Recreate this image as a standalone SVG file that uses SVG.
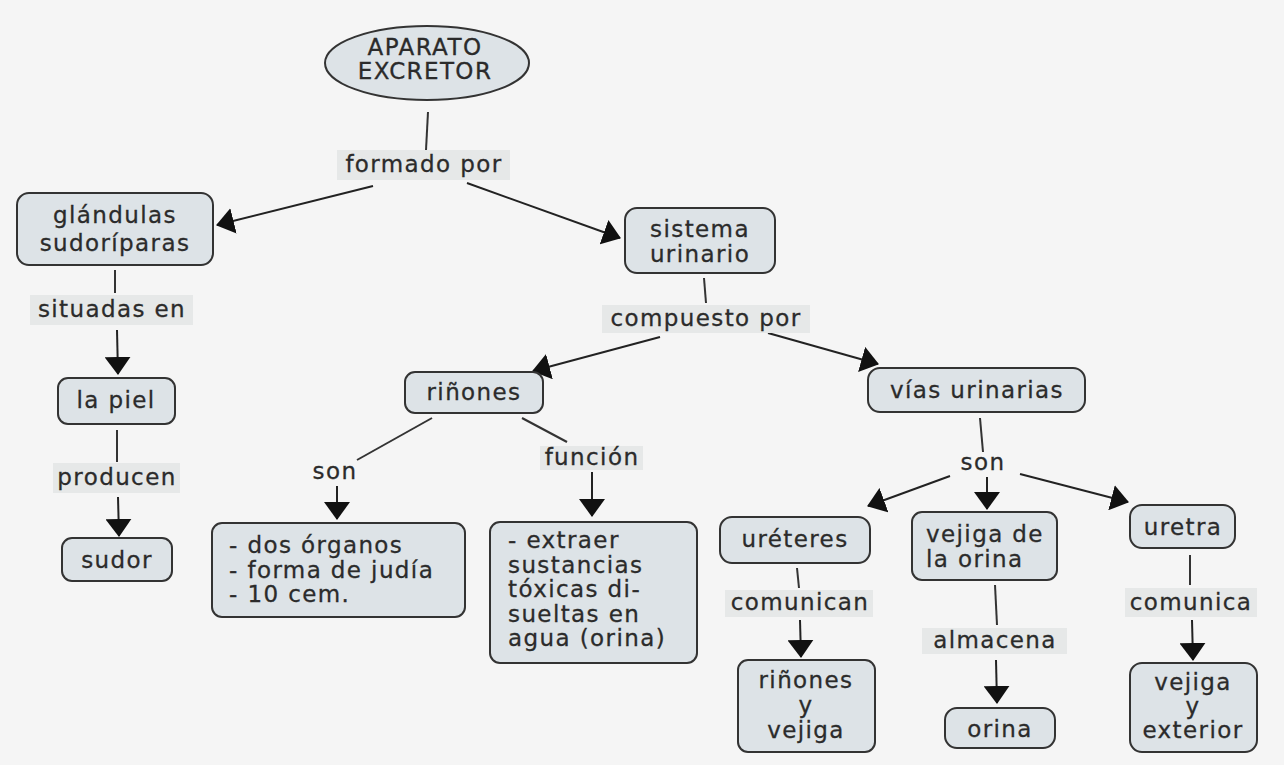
<svg xmlns="http://www.w3.org/2000/svg" width="1284" height="765" viewBox="0 0 1284 765">
<defs>
<marker id="ah" markerUnits="userSpaceOnUse" markerWidth="18" markerHeight="26" viewBox="0 0 18 26" refX="17" refY="13" orient="auto"><path d="M0,0 L18,13 L0,26 z" fill="#111"/></marker>
<style>
.n{fill:#dde3e7;stroke:#333;stroke-width:2}
.t{font-family:"DejaVu Sans",Verdana,sans-serif;font-size:23px;letter-spacing:1.4px;fill:#2b2b2b;stroke:#2b2b2b;stroke-width:0.3}
.c{text-anchor:middle}
.lb{fill:#e6e8e8}
.ln{stroke:#333;stroke-width:2;fill:none}
.ar{stroke:#222;stroke-width:2;fill:none;marker-end:url(#ah)}
</style>
</defs>
<rect width="1284" height="765" fill="#f5f5f5"/>
<g id="connectors">
<line class="ln" x1="428" y1="112" x2="426" y2="150"/>
<line class="ar" x1="373" y1="186" x2="217" y2="225"/>
<line class="ar" x1="467" y1="183" x2="620" y2="238"/>
<line class="ln" x1="115" y1="270" x2="115" y2="293"/>
<line class="ar" x1="117" y1="330" x2="118" y2="374"/>
<line class="ln" x1="117" y1="430" x2="117" y2="462"/>
<line class="ar" x1="118" y1="497" x2="119" y2="536"/>
<line class="ln" x1="704" y1="278" x2="706" y2="303"/>
<line class="ar" x1="660" y1="337" x2="533" y2="371"/>
<line class="ar" x1="768" y1="333" x2="878" y2="364"/>
<line class="ln" x1="432" y1="418" x2="357" y2="460"/>
<line class="ar" x1="337" y1="486" x2="337" y2="519"/>
<line class="ln" x1="522" y1="418" x2="567" y2="442"/>
<line class="ar" x1="592" y1="472" x2="592" y2="516"/>
<line class="ln" x1="980" y1="418" x2="983" y2="452"/>
<line class="ar" x1="950" y1="476" x2="868" y2="506"/>
<line class="ar" x1="987" y1="477" x2="987" y2="509"/>
<line class="ar" x1="1020" y1="474" x2="1128" y2="502"/>
<line class="ln" x1="797" y1="568" x2="799" y2="588"/>
<line class="ar" x1="800" y1="620" x2="801" y2="657"/>
<line class="ln" x1="995" y1="585" x2="997" y2="625"/>
<line class="ar" x1="996" y1="660" x2="997" y2="703"/>
<line class="ln" x1="1190" y1="555" x2="1190" y2="585"/>
<line class="ar" x1="1192" y1="620" x2="1193" y2="660"/>
</g>
<g id="labels">
<rect class="lb" x="337" y="150" width="173" height="30"/><text class="t c" x="424" y="172">formado por</text>
<rect class="lb" x="30" y="295" width="163" height="30"/><text class="t c" x="112" y="317">situadas en</text>
<rect class="lb" x="53" y="463" width="127" height="30"/><text class="t c" x="117" y="485">producen</text>
<rect class="lb" x="602" y="305" width="208" height="28"/><text class="t c" x="706" y="326">compuesto por</text>
<text class="t c" x="335" y="479">son</text>
<rect class="lb" x="540" y="446" width="103" height="24"/><text class="t c" x="592" y="465">función</text>
<text class="t c" x="983" y="470">son</text>
<rect class="lb" x="725" y="590" width="148" height="27"/><text class="t c" x="800" y="610">comunican</text>
<rect class="lb" x="922" y="628" width="145" height="26"/><text class="t c" x="995" y="648">almacena</text>
<rect class="lb" x="1125" y="588" width="132" height="29"/><text class="t c" x="1191" y="610">comunica</text>
</g>
<g id="aparato"><ellipse class="n" cx="427" cy="63" rx="102" ry="37"/><text class="t c" x="425" y="55">APARATO</text><text class="t c" x="425" y="79">EXCRETOR</text></g>
<g id="glandulas"><rect class="n" x="17" y="193" width="196" height="72" rx="12"/><text class="t c" x="115" y="223">glándulas</text><text class="t c" x="115" y="251">sudoríparas</text></g>
<g id="piel"><rect class="n" x="58" y="378" width="117" height="46" rx="10"/><text class="t c" x="116" y="408">la piel</text></g>
<g id="sudor"><rect class="n" x="62" y="538" width="110" height="43" rx="10"/><text class="t c" x="117" y="568">sudor</text></g>
<g id="sistema"><rect class="n" x="625" y="208" width="150" height="65" rx="12"/><text class="t c" x="700" y="237">sistema</text><text class="t c" x="700" y="262">urinario</text></g>
<g id="rinones"><rect class="n" x="405" y="372" width="138" height="41" rx="10"/><text class="t c" x="474" y="400">riñones</text></g>
<g id="dos"><rect class="n" x="212" y="523" width="253" height="94" rx="10"/><text class="t" x="229" y="553">- dos órganos</text><text class="t" x="229" y="578">- forma de judía</text><text class="t" x="229" y="602">- 10 cem.</text></g>
<g id="extraer"><rect class="n" x="490" y="522" width="207" height="141" rx="10"/><text class="t" x="508" y="548">- extraer</text><text class="t" x="508" y="573">sustancias</text><text class="t" x="508" y="597">tóxicas di-</text><text class="t" x="508" y="622">sueltas en</text><text class="t" x="508" y="646">agua (orina)</text></g>
<g id="vias"><rect class="n" x="868" y="368" width="217" height="44" rx="12"/><text class="t c" x="977" y="398">vías urinarias</text></g>
<g id="ureteres"><rect class="n" x="720" y="517" width="150" height="46" rx="12"/><text class="t c" x="795" y="547">uréteres</text></g>
<g id="vejiga"><rect class="n" x="912" y="512" width="145" height="68" rx="10"/><text class="t" x="926" y="542">vejiga de</text><text class="t" x="926" y="567">la orina</text></g>
<g id="uretra"><rect class="n" x="1130" y="505" width="105" height="43" rx="12"/><text class="t c" x="1183" y="535">uretra</text></g>
<g id="rinvej"><rect class="n" x="738" y="660" width="137" height="92" rx="10"/><text class="t c" x="806" y="688">riñones</text><text class="t c" x="806" y="713">y</text><text class="t c" x="806" y="738">vejiga</text></g>
<g id="orina"><rect class="n" x="945" y="708" width="110" height="40" rx="12"/><text class="t c" x="1000" y="737">orina</text></g>
<g id="vejext"><rect class="n" x="1130" y="663" width="127" height="89" rx="12"/><text class="t c" x="1193" y="690">vejiga</text><text class="t c" x="1193" y="714">y</text><text class="t c" x="1193" y="738">exterior</text></g>
</svg>
